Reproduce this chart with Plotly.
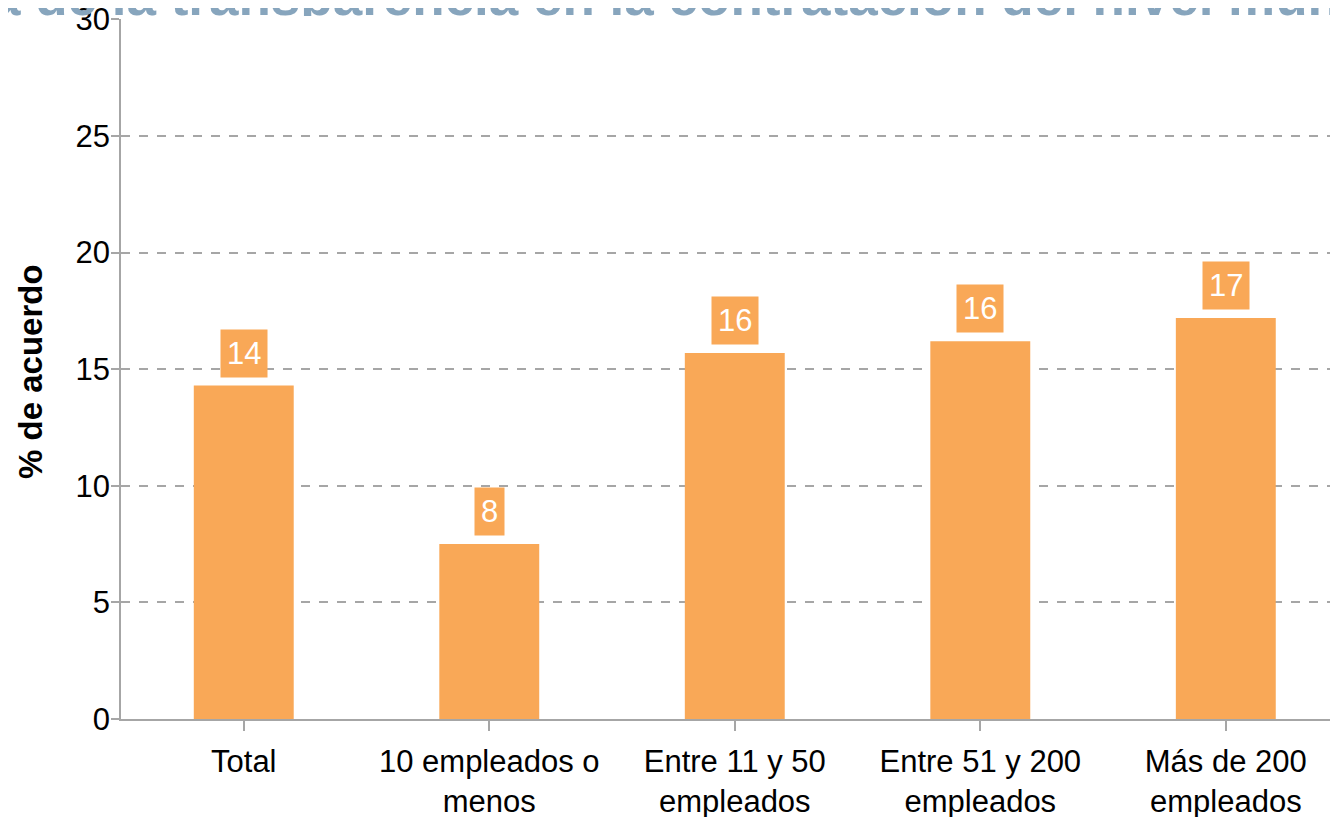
import plotly.graph_objects as go

categories = ["Total", "10 empleados o<br>menos", "Entre 11 y 50<br>empleados",
              "Entre 51 y 200<br>empleados", "Más de 200<br>empleados"]
values = [14.3, 7.5, 15.7, 16.2, 17.2]
labels = ["14", "8", "16", "16", "17"]
y_ticks = [0, 5, 10, 15, 20, 25, 30]
title_text = "a de la transparencia en la contratación del nivel municipal"
y_title = "% de acuerdo"

BAR = "#F9A857"
GRID = "#A6A6A6"
FONT = "Liberation Sans, Arial"

fig = go.Figure()
fig.add_trace(go.Bar(
    x=list(range(len(categories))), y=values,
    marker=dict(color=BAR, line=dict(width=0)),
    width=0.407, hoverinfo="skip",
))

for i, (v, lab) in enumerate(zip(values, labels)):
    fig.add_annotation(
        x=i, y=v, xref="x", yref="y", text=lab, showarrow=False,
        yanchor="bottom", yshift=8, bgcolor=BAR, borderpad=6,
        font=dict(family=FONT, size=31, color="white"),
    )

# title: only the upper band of it is visible in the reference (clipped by a fixed-height box)
fig.add_annotation(
    x=0, y=1, xref="paper", yref="paper", xanchor="left", yanchor="bottom",
    xshift=-130, yshift=3, text="<b>" + title_text + "</b>", showarrow=False,
    width=1500, height=39, align="left", valign="middle", borderpad=0, borderwidth=0,
    font=dict(family=FONT, size=53, color="#87A5BD"),
)

fig.add_annotation(
    x=0, y=0.5, xref="paper", yref="paper", xanchor="center", yanchor="middle",
    xshift=-91, yshift=-3, text="<b>" + y_title + "</b>", textangle=-90, showarrow=False,
    font=dict(family=FONT, size=33, color="black"),
)

# page body has an 8px margin; size figure so plot area lands at the reference pixels
fig.update_layout(
    width=1330, height=809,
    margin=dict(l=113, r=0, t=11, b=98, autoexpand=False),
    plot_bgcolor="white", paper_bgcolor="white",
    showlegend=False,
)
fig.update_xaxes(
    range=[-0.5, 4.457], tickmode="array", tickvals=list(range(len(categories))),
    ticktext=categories, tickson="boundaries", ticks="outside", ticklen=10,
    tickcolor=GRID, tickwidth=1.5, showline=True, linecolor=GRID, linewidth=1.5,
    showgrid=False, zeroline=False, automargin=False,
    tickfont=dict(family=FONT, size=31, color="black"),
    ticklabelstandoff=4, ticklabeloverflow="allow",
)
fig.update_yaxes(
    range=[0, 30.02], tickvals=y_ticks, ticks="outside", ticklen=8,
    tickcolor=GRID, tickwidth=1.5, showline=True, linecolor=GRID, linewidth=1.5,
    showgrid=True, gridcolor=GRID, griddash="dash", gridwidth=1.5, zeroline=False,
    automargin=False,
    tickfont=dict(family=FONT, size=31, color="black"),
    ticklabelstandoff=-5, ticklabeloverflow="allow",
)

fig.write_html("out.html")
